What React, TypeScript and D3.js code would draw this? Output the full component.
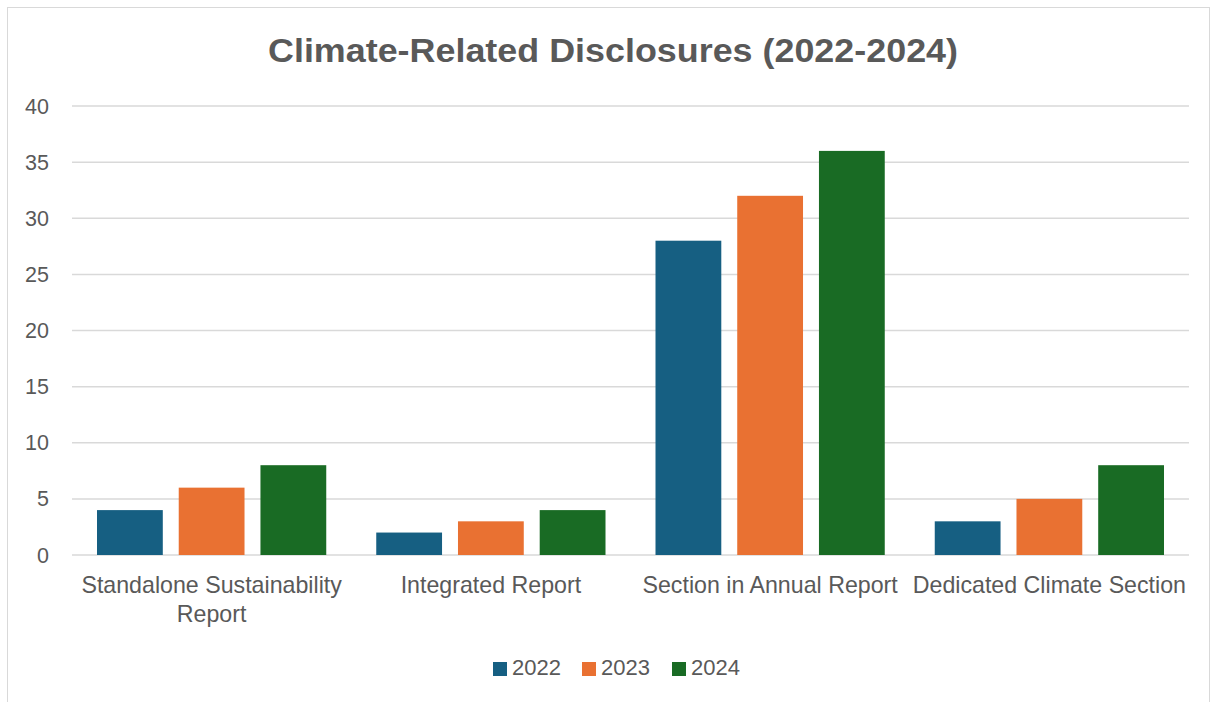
import React from "react";
import * as d3 from "d3";

const categories = [
  ["Standalone Sustainability", "Report"],
  ["Integrated Report"],
  ["Section in Annual Report"],
  ["Dedicated Climate Section"],
];
const seriesNames = ["2022", "2023", "2024"];
const values2022 = [4, 2, 28, 3];
const values2023 = [6, 3, 32, 5];
const values2024 = [8, 4, 36, 8];
const yTicks = [0, 5, 10, 15, 20, 25, 30, 35, 40];
const colors = ["#165f82", "#e97132", "#196b24"];
const title = "Climate-Related Disclosures (2022-2024)";

export default function App() {
  const W = 1214, H = 702;
  const left = 72, right = 1189, top = 106, bottom = 555;
  const series = [values2022, values2023, values2024];
  const x = d3.scaleBand<number>().domain(categories.map((_, i) => i)).range([left, right]);
  const inner = d3.scaleBand<number>().domain([0, 1, 2]).range([25, x.bandwidth() - 25]).paddingInner(0.195);
  const y = d3.scaleLinear().domain([0, 40]).range([bottom, top]);
  const font = "'Liberation Sans', Arial, sans-serif";
  const textColor = "#595959";
  const legendX = [493, 582, 672];
  return (
    <svg width={W} height={H} style={{ position: "absolute", left: 0, top: 0, background: "#fff" }} fontFamily={font}>
      <rect x={7.5} y={7.5} width={1202} height={710} fill="#fff" stroke="#d9d9d9" strokeWidth={1} />
      <text x={613} y={62} textAnchor="middle" fontSize={33} fontWeight="bold" fill={textColor} textLength={690} lengthAdjust="spacingAndGlyphs">{title}</text>
      {yTicks.map((t) => (
        <g key={t}>
          <line x1={left} x2={right} y1={y(t)} y2={y(t)} stroke="#d9d9d9" strokeWidth={1.5} />
          <text x={49} y={y(t) + 7.5} textAnchor="end" fontSize={21.5} fill={textColor}>{t}</text>
        </g>
      ))}
      {categories.map((c, i) =>
        series.map((s, j) => (
          <rect key={`${i}-${j}`} x={(x(i) as number) + (inner(j) as number)} y={y(s[i])} width={inner.bandwidth()} height={y(0) - y(s[i])} fill={colors[j]} />
        ))
      )}
      {categories.map((c, i) => (
        <text key={i} x={(x(i) as number) + x.bandwidth() / 2} textAnchor="middle" fontSize={23.2} fill={textColor}>
          {c.map((line, k) => (
            <tspan key={k} x={(x(i) as number) + x.bandwidth() / 2} y={593 + k * 28.5}>{line}</tspan>
          ))}
        </text>
      ))}
      {seriesNames.map((n, j) => (
        <g key={n}>
          <rect x={legendX[j]} y={662} width={14} height={14} fill={colors[j]} />
          <text x={legendX[j] + 19} y={675} fontSize={22} fill={textColor}>{n}</text>
        </g>
      ))}
    </svg>
  );
}
